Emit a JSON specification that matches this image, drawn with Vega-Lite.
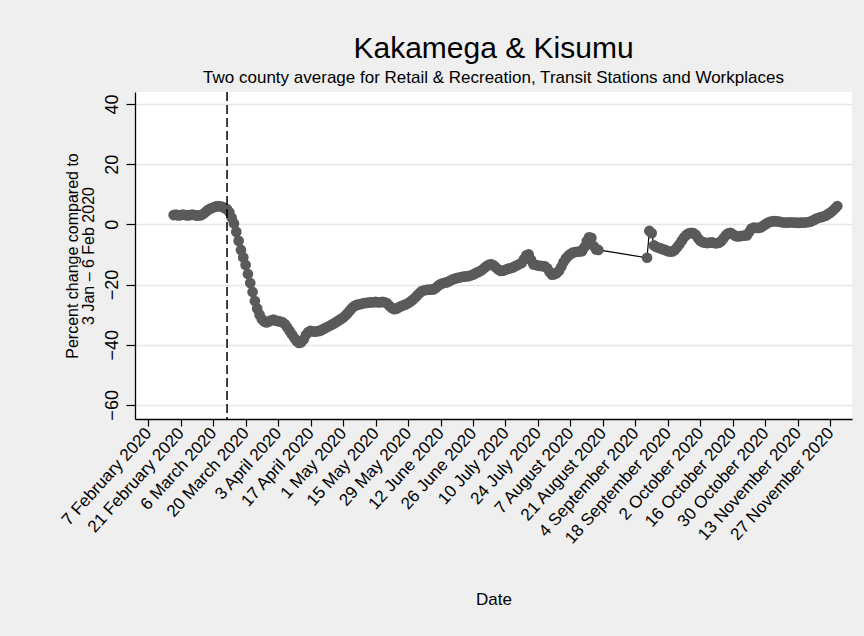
{
"$schema": "https://vega.github.io/schema/vega-lite/v6.json",
"width": 717, "height": 327,
"autosize": {"type": "none"},
"padding": {"left": 135, "top": 92, "right": 12, "bottom": 217},
"background": "#efefef",
"config": {"view": {"fill": "white", "stroke": null}, "font": "Liberation Sans"},
"title": {"text": "Kakamega & Kisumu", "subtitle": "Two county average for Retail & Recreation, Transit Stations and Workplaces", "fontSize": 30, "fontWeight": "normal", "subtitleFontSize": 17, "color": "black", "subtitleColor": "black", "anchor": "middle", "offset": 5, "subtitlePadding": 6, "font": "Liberation Sans", "subtitleFont": "Liberation Sans"},
"datasets": {
"mob": [
{"date":"2020-02-18","value":3.1},{"date":"2020-02-19","value":3.2},{"date":"2020-02-20","value":3.0},{"date":"2020-02-21","value":3.1},{"date":"2020-02-22","value":3.2},{"date":"2020-02-23","value":3.1},{"date":"2020-02-24","value":3.0},{"date":"2020-02-25","value":3.1},{"date":"2020-02-26","value":3.2},{"date":"2020-02-27","value":3.1},{"date":"2020-02-28","value":2.9},{"date":"2020-02-29","value":3.0},
{"date":"2020-03-01","value":3.1},{"date":"2020-03-02","value":3.6},{"date":"2020-03-03","value":4.3},{"date":"2020-03-04","value":4.9},{"date":"2020-03-05","value":5.3},{"date":"2020-03-06","value":5.6},{"date":"2020-03-07","value":5.9},{"date":"2020-03-08","value":6.1},{"date":"2020-03-09","value":6.0},{"date":"2020-03-10","value":5.8},{"date":"2020-03-11","value":5.4},{"date":"2020-03-12","value":5.0},{"date":"2020-03-13","value":4.0},{"date":"2020-03-14","value":2.2},{"date":"2020-03-15","value":0.3},{"date":"2020-03-16","value":-2.5},{"date":"2020-03-17","value":-5.5},{"date":"2020-03-18","value":-8.5},{"date":"2020-03-19","value":-11.0},{"date":"2020-03-20","value":-13.5},{"date":"2020-03-21","value":-16.5},{"date":"2020-03-22","value":-19.5},{"date":"2020-03-23","value":-22.5},{"date":"2020-03-24","value":-25.5},{"date":"2020-03-25","value":-28.0},{"date":"2020-03-26","value":-30.0},{"date":"2020-03-27","value":-31.5},{"date":"2020-03-28","value":-32.3},{"date":"2020-03-29","value":-32.6},{"date":"2020-03-30","value":-32.3},{"date":"2020-03-31","value":-31.9},
{"date":"2020-04-01","value":-31.7},{"date":"2020-04-02","value":-32.0},{"date":"2020-04-03","value":-32.2},{"date":"2020-04-04","value":-32.3},{"date":"2020-04-05","value":-32.6},{"date":"2020-04-06","value":-33.2},{"date":"2020-04-07","value":-34.3},{"date":"2020-04-08","value":-35.5},{"date":"2020-04-09","value":-36.6},{"date":"2020-04-10","value":-37.8},{"date":"2020-04-11","value":-38.8},{"date":"2020-04-12","value":-39.4},{"date":"2020-04-13","value":-39.2},{"date":"2020-04-14","value":-38.3},{"date":"2020-04-15","value":-36.8},{"date":"2020-04-16","value":-35.8},{"date":"2020-04-17","value":-35.4},{"date":"2020-04-18","value":-35.6},{"date":"2020-04-19","value":-35.7},{"date":"2020-04-20","value":-35.5},{"date":"2020-04-21","value":-35.4},{"date":"2020-04-22","value":-35.0},{"date":"2020-04-23","value":-34.6},{"date":"2020-04-24","value":-34.2},{"date":"2020-04-25","value":-33.8},{"date":"2020-04-26","value":-33.4},{"date":"2020-04-27","value":-33.0},{"date":"2020-04-28","value":-32.5},{"date":"2020-04-29","value":-32.0},{"date":"2020-04-30","value":-31.5},
{"date":"2020-05-01","value":-31.0},{"date":"2020-05-02","value":-30.3},{"date":"2020-05-03","value":-29.5},{"date":"2020-05-04","value":-28.6},{"date":"2020-05-05","value":-27.7},{"date":"2020-05-06","value":-27.1},{"date":"2020-05-07","value":-26.8},{"date":"2020-05-08","value":-26.6},{"date":"2020-05-09","value":-26.4},{"date":"2020-05-10","value":-26.2},{"date":"2020-05-11","value":-26.1},{"date":"2020-05-12","value":-26.0},{"date":"2020-05-13","value":-25.9},{"date":"2020-05-14","value":-25.9},{"date":"2020-05-15","value":-25.8},{"date":"2020-05-16","value":-25.9},{"date":"2020-05-17","value":-25.9},{"date":"2020-05-18","value":-25.8},{"date":"2020-05-19","value":-25.9},{"date":"2020-05-20","value":-26.3},{"date":"2020-05-21","value":-27.1},{"date":"2020-05-22","value":-27.8},{"date":"2020-05-23","value":-28.2},{"date":"2020-05-24","value":-28.0},{"date":"2020-05-25","value":-27.6},{"date":"2020-05-26","value":-27.2},{"date":"2020-05-27","value":-26.9},{"date":"2020-05-28","value":-26.6},{"date":"2020-05-29","value":-26.2},{"date":"2020-05-30","value":-25.7},{"date":"2020-05-31","value":-25.1},
{"date":"2020-06-01","value":-24.4},{"date":"2020-06-02","value":-23.6},{"date":"2020-06-03","value":-22.8},{"date":"2020-06-04","value":-22.2},{"date":"2020-06-05","value":-21.9},{"date":"2020-06-06","value":-21.8},{"date":"2020-06-07","value":-21.7},{"date":"2020-06-08","value":-21.7},{"date":"2020-06-09","value":-21.6},{"date":"2020-06-10","value":-21.1},{"date":"2020-06-11","value":-20.4},{"date":"2020-06-12","value":-19.9},{"date":"2020-06-13","value":-19.6},{"date":"2020-06-14","value":-19.4},{"date":"2020-06-15","value":-19.2},{"date":"2020-06-16","value":-18.8},{"date":"2020-06-17","value":-18.4},{"date":"2020-06-18","value":-18.1},{"date":"2020-06-19","value":-17.9},{"date":"2020-06-20","value":-17.7},{"date":"2020-06-21","value":-17.5},{"date":"2020-06-22","value":-17.4},{"date":"2020-06-23","value":-17.3},{"date":"2020-06-24","value":-17.2},{"date":"2020-06-25","value":-17.0},{"date":"2020-06-26","value":-16.7},{"date":"2020-06-27","value":-16.3},{"date":"2020-06-28","value":-15.9},{"date":"2020-06-29","value":-15.6},{"date":"2020-06-30","value":-15.1},
{"date":"2020-07-01","value":-14.4},{"date":"2020-07-02","value":-13.8},{"date":"2020-07-03","value":-13.4},{"date":"2020-07-04","value":-13.3},{"date":"2020-07-05","value":-13.7},{"date":"2020-07-06","value":-14.4},{"date":"2020-07-07","value":-15.1},{"date":"2020-07-08","value":-15.5},{"date":"2020-07-09","value":-15.4},{"date":"2020-07-10","value":-15.1},{"date":"2020-07-11","value":-14.8},{"date":"2020-07-12","value":-14.6},{"date":"2020-07-13","value":-14.4},{"date":"2020-07-14","value":-14.0},{"date":"2020-07-15","value":-13.6},{"date":"2020-07-16","value":-13.2},{"date":"2020-07-17","value":-12.8},{"date":"2020-07-18","value":-11.5},{"date":"2020-07-19","value":-10.3},{"date":"2020-07-20","value":-10.0},{"date":"2020-07-21","value":-11.8},{"date":"2020-07-22","value":-13.3},{"date":"2020-07-23","value":-13.5},{"date":"2020-07-24","value":-13.7},{"date":"2020-07-25","value":-13.8},{"date":"2020-07-26","value":-13.9},{"date":"2020-07-27","value":-14.0},{"date":"2020-07-28","value":-14.6},{"date":"2020-07-29","value":-15.8},{"date":"2020-07-30","value":-16.7},{"date":"2020-07-31","value":-16.6},
{"date":"2020-08-01","value":-16.2},{"date":"2020-08-02","value":-15.5},{"date":"2020-08-03","value":-14.2},{"date":"2020-08-04","value":-12.6},{"date":"2020-08-05","value":-11.4},{"date":"2020-08-06","value":-10.5},{"date":"2020-08-07","value":-9.9},{"date":"2020-08-08","value":-9.4},{"date":"2020-08-09","value":-9.2},{"date":"2020-08-10","value":-9.1},{"date":"2020-08-11","value":-9.0},{"date":"2020-08-12","value":-8.9},{"date":"2020-08-13","value":-7.6},{"date":"2020-08-14","value":-5.6},{"date":"2020-08-15","value":-4.3},{"date":"2020-08-16","value":-4.5},{"date":"2020-08-17","value":-7.2},{"date":"2020-08-18","value":-8.3},{"date":"2020-08-19","value":-8.5},
{"date":"2020-09-09","value":-11.1},{"date":"2020-09-10","value":-2.2},{"date":"2020-09-11","value":-2.9},{"date":"2020-09-12","value":-7.0},{"date":"2020-09-13","value":-7.5},{"date":"2020-09-14","value":-7.8},{"date":"2020-09-15","value":-8.0},{"date":"2020-09-16","value":-8.3},{"date":"2020-09-17","value":-8.6},{"date":"2020-09-18","value":-8.9},{"date":"2020-09-19","value":-9.1},{"date":"2020-09-20","value":-9.0},{"date":"2020-09-21","value":-8.5},{"date":"2020-09-22","value":-7.6},{"date":"2020-09-23","value":-6.6},{"date":"2020-09-24","value":-5.4},{"date":"2020-09-25","value":-4.3},{"date":"2020-09-26","value":-3.5},{"date":"2020-09-27","value":-3.0},{"date":"2020-09-28","value":-2.8},{"date":"2020-09-29","value":-2.9},{"date":"2020-09-30","value":-3.5},
{"date":"2020-10-01","value":-4.6},{"date":"2020-10-02","value":-5.5},{"date":"2020-10-03","value":-5.9},{"date":"2020-10-04","value":-6.1},{"date":"2020-10-05","value":-6.2},{"date":"2020-10-06","value":-6.1},{"date":"2020-10-07","value":-6.0},{"date":"2020-10-08","value":-6.2},{"date":"2020-10-09","value":-6.3},{"date":"2020-10-10","value":-6.1},{"date":"2020-10-11","value":-5.6},{"date":"2020-10-12","value":-4.6},{"date":"2020-10-13","value":-3.6},{"date":"2020-10-14","value":-3.0},{"date":"2020-10-15","value":-2.8},{"date":"2020-10-16","value":-3.3},{"date":"2020-10-17","value":-3.8},{"date":"2020-10-18","value":-4.0},{"date":"2020-10-19","value":-3.9},{"date":"2020-10-20","value":-3.8},{"date":"2020-10-21","value":-3.7},{"date":"2020-10-22","value":-3.7},{"date":"2020-10-23","value":-2.6},{"date":"2020-10-24","value":-1.4},{"date":"2020-10-25","value":-1.1},{"date":"2020-10-26","value":-1.2},{"date":"2020-10-27","value":-1.2},{"date":"2020-10-28","value":-1.0},{"date":"2020-10-29","value":-0.5},{"date":"2020-10-30","value":0.0},{"date":"2020-10-31","value":0.5},
{"date":"2020-11-01","value":0.8},{"date":"2020-11-02","value":1.0},{"date":"2020-11-03","value":1.1},{"date":"2020-11-04","value":1.0},{"date":"2020-11-05","value":0.9},{"date":"2020-11-06","value":0.7},{"date":"2020-11-07","value":0.6},{"date":"2020-11-08","value":0.6},{"date":"2020-11-09","value":0.6},{"date":"2020-11-10","value":0.7},{"date":"2020-11-11","value":0.6},{"date":"2020-11-12","value":0.6},{"date":"2020-11-13","value":0.5},{"date":"2020-11-14","value":0.6},{"date":"2020-11-15","value":0.6},{"date":"2020-11-16","value":0.6},{"date":"2020-11-17","value":0.7},{"date":"2020-11-18","value":0.8},{"date":"2020-11-19","value":1.1},{"date":"2020-11-20","value":1.5},{"date":"2020-11-21","value":1.9},{"date":"2020-11-22","value":2.2},{"date":"2020-11-23","value":2.4},{"date":"2020-11-24","value":2.6},{"date":"2020-11-25","value":2.9},{"date":"2020-11-26","value":3.4},{"date":"2020-11-27","value":3.9},{"date":"2020-11-28","value":4.5},{"date":"2020-11-29","value":5.3},{"date":"2020-11-30","value":6.1}
],
"vline": [{"date": "2020-03-12"}]
},
"layer": [
{"data": {"name": "mob"},
 "mark": {"type": "line", "color": "black", "strokeWidth": 1.2},
 "encoding": {
  "x": {"field": "date", "type": "temporal",
   "scale": {"type": "utc", "domain": [{"year": 2020, "month": 2, "date": 1, "hours": 8, "utc": true}, {"year": 2020, "month": 12, "date": 6, "hours": 8, "utc": true}]},
   "axis": {"values": [
     {"year":2020,"month":2,"date":7,"utc":true},{"year":2020,"month":2,"date":21,"utc":true},{"year":2020,"month":3,"date":6,"utc":true},{"year":2020,"month":3,"date":20,"utc":true},{"year":2020,"month":4,"date":3,"utc":true},{"year":2020,"month":4,"date":17,"utc":true},{"year":2020,"month":5,"date":1,"utc":true},{"year":2020,"month":5,"date":15,"utc":true},{"year":2020,"month":5,"date":29,"utc":true},{"year":2020,"month":6,"date":12,"utc":true},{"year":2020,"month":6,"date":26,"utc":true},{"year":2020,"month":7,"date":10,"utc":true},{"year":2020,"month":7,"date":24,"utc":true},{"year":2020,"month":8,"date":7,"utc":true},{"year":2020,"month":8,"date":21,"utc":true},{"year":2020,"month":9,"date":4,"utc":true},{"year":2020,"month":9,"date":18,"utc":true},{"year":2020,"month":10,"date":2,"utc":true},{"year":2020,"month":10,"date":16,"utc":true},{"year":2020,"month":10,"date":30,"utc":true},{"year":2020,"month":11,"date":13,"utc":true},{"year":2020,"month":11,"date":27,"utc":true}],
    "tickCount": 60,
    "labelExpr": "utcFormat(datum.value, '%-d %B %Y')",
    "labelAngle": -48, "labelAlign": "right", "labelBaseline": "middle", "labelFontSize": 17, "labelColor": "black", "labelOverlap": false, "labelFlush": false, "labelPadding": 4,
    "tickSize": 7, "tickColor": "black", "tickWidth": 1.2, "domainColor": "black", "domainWidth": 1.3, "grid": false,
    "title": "Date", "titleFontSize": 17, "titleFontWeight": "normal", "titleColor": "black", "titlePadding": 45}},
  "y": {"field": "value", "type": "quantitative",
   "scale": {"domain": [-64.7, 44], "nice": false, "zero": false},
   "axis": {"values": [-60, -40, -20, 0, 20, 40], "tickCount": 20, "labelAngle": -90, "labelAlign": "center", "labelBaseline": "bottom", "labelFontSize": 18, "labelColor": "black", "labelPadding": 5,
    "tickSize": 9, "tickColor": "black", "tickWidth": 1.2, "domainColor": "black", "domainWidth": 1.3,
    "grid": true, "gridColor": "#e6e6e6", "gridWidth": 1.5,
    "title": ["Percent change compared to", "3 Jan \u2013 6 Feb 2020"], "titleFontSize": 16, "titleFontWeight": "normal", "titleColor": "black", "titleLineHeight": 16, "titlePadding": 7}}
 }},
{"data": {"name": "mob"},
 "mark": {"type": "point", "filled": true, "color": "#5a5a5a", "size": 115, "opacity": 1},
 "encoding": {"x": {"field": "date", "type": "temporal"}, "y": {"field": "value", "type": "quantitative"}}},
{"data": {"name": "vline"},
 "mark": {"type": "rule", "color": "black", "strokeDash": [9, 4], "strokeWidth": 1.5},
 "encoding": {"x": {"field": "date", "type": "temporal"}}}
]
}
